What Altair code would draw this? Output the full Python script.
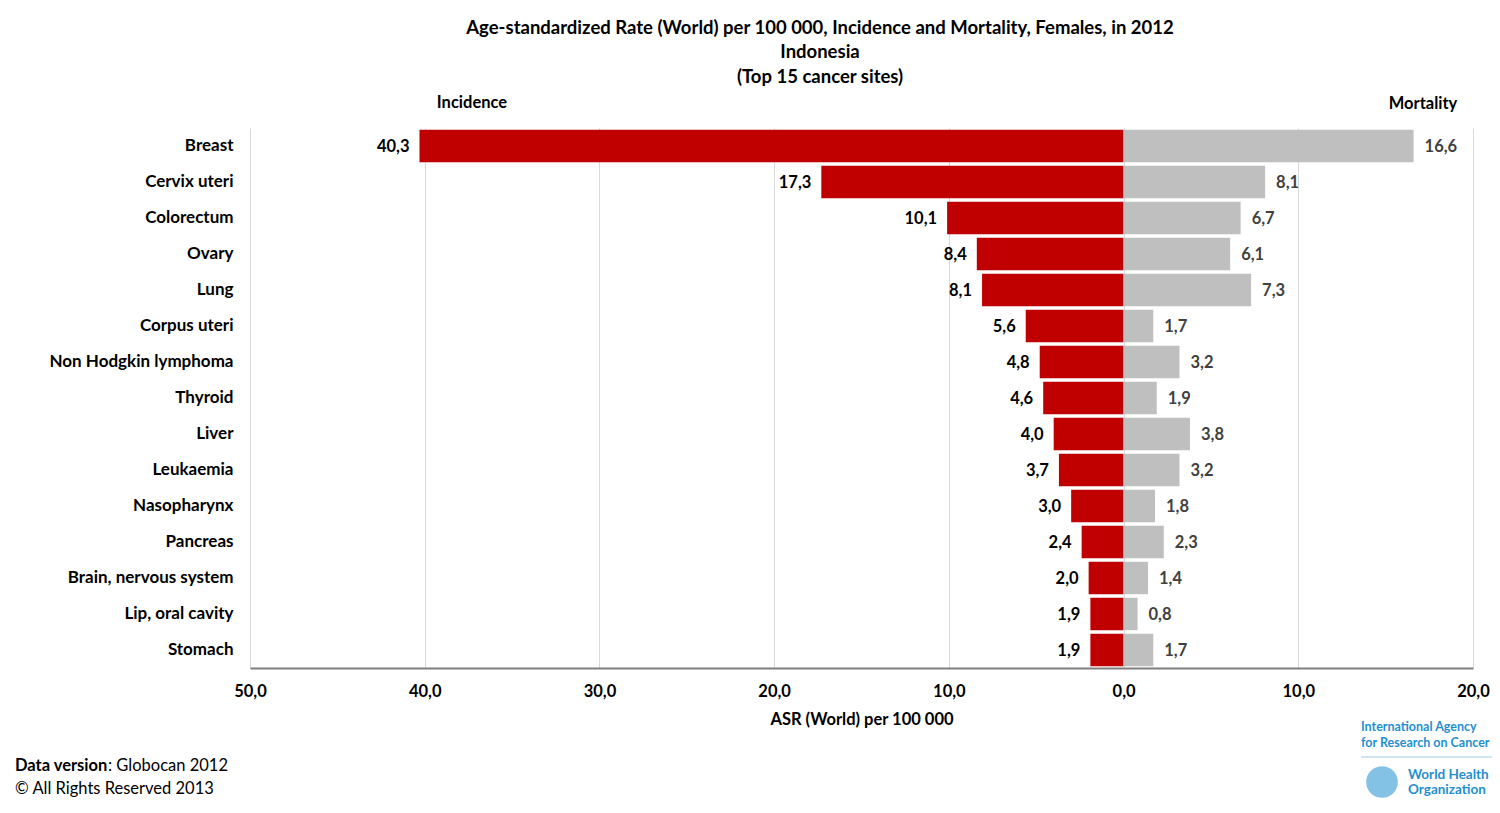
import altair as alt
import pandas as pd

sites = ["Breast", "Cervix uteri", "Colorectum", "Ovary", "Lung", "Corpus uteri",
         "Non Hodgkin lymphoma", "Thyroid", "Liver", "Leukaemia", "Nasopharynx",
         "Pancreas", "Brain, nervous system", "Lip, oral cavity", "Stomach"]
incidence = [40.3, 17.3, 10.1, 8.4, 8.1, 5.6, 4.8, 4.6, 4.0, 3.7, 3.0, 2.4, 2.0, 1.9, 1.9]
mortality = [16.6, 8.1, 6.7, 6.1, 7.3, 1.7, 3.2, 1.9, 3.8, 3.2, 1.8, 2.3, 1.4, 0.8, 1.7]
x_ticks = [-50, -40, -30, -20, -10, 0, 10, 20]

title_lines = ["Age-standardized Rate (World) per 100 000, Incidence and Mortality, Females, in 2012",
               "Indonesia", "(Top 15 cancer sites)"]

FONT = "Lato"
FS = 16.5
W, H = 1223, 540

rows = []
for s, v in zip(sites, incidence):
    rows.append({"site": s, "kind": "Incidence", "val": -v, "abs": v})
for s, v in zip(sites, mortality):
    rows.append({"site": s, "kind": "Mortality", "val": v, "abs": v})
df = pd.DataFrame(rows)

x_scale = alt.Scale(domain=[-50, 20], nice=False)
x_axis = alt.Axis(values=x_ticks,
                  labelExpr="replace(format(abs(datum.value), '.1f'), '.', ',')",
                  labelFont=FONT, labelFontSize=FS, labelFontWeight="bold",
                  labelColor="#000000", labelPadding=15, labelFlush=False,
                  labelOverlap=False,
                  titleFont=FONT, titleFontSize=FS, titleFontWeight="bold",
                  titleColor="#000000", titlePadding=12,
                  grid=True, gridColor="#d9d9d9", ticks=False,
                  domainColor="#7f7f7f", domainWidth=2)
X = alt.X("val:Q", scale=x_scale, title="ASR (World) per 100 000", axis=x_axis)
Y = alt.Y("site:N", sort=sites, title=None,
          scale=alt.Scale(paddingInner=0.1, paddingOuter=0.05),
          axis=alt.Axis(labelFont=FONT, labelFontSize=17, labelFontWeight="bold",
                        labelColor="#000000", labelPadding=17, labelLimit=400,
                        domain=False, ticks=False, grid=False))

base = alt.Chart(df)

bars = base.mark_bar().encode(
    x=X, x2=alt.datum(0), y=Y,
    color=alt.Color("kind:N", scale=alt.Scale(domain=["Incidence", "Mortality"],
                                              range=["#c00000", "#bfbfbf"]), legend=None),
)

lab_expr = "replace(format(datum.abs, '.1f'), '.', ',')"
inc_labels = base.transform_filter("datum.kind == 'Incidence'").transform_calculate(
    lab=lab_expr
).mark_text(align="right", baseline="middle", dx=-10, dy=1, font=FONT, fontSize=FS,
            fontWeight="bold", color="#000000").encode(x=X, y=Y, text="lab:N")

mort_labels = base.transform_filter("datum.kind == 'Mortality'").transform_calculate(
    lab=lab_expr
).mark_text(align="left", baseline="middle", dx=11, dy=1, font=FONT, fontSize=FS,
            fontWeight="bold", color="#404040").encode(x=X, y=Y, text="lab:N")


def txt(t, x, y, align="center", weight="normal", size=FS, color="#000000"):
    return alt.Chart(pd.DataFrame({"t": [t]})).mark_text(
        font=FONT, fontSize=size, fontWeight=weight, align=align, baseline="middle",
        color=color).encode(x=alt.value(x), y=alt.value(y), text="t:N")


title1 = txt(title_lines[0], 570, -100, weight="bold", size=18.5)
title2 = txt(title_lines[1], 570, -76, weight="bold", size=18.5)
title3 = txt(title_lines[2], 570, -51, weight="bold", size=18.5)

side_inc = txt("Incidence", 222, -25, weight="bold")
side_mort = txt("Mortality", 1173, -24, weight="bold")

foot1 = txt("Data version", -235, 638, align="left", weight="bold")
foot1b = txt(": Globocan 2012", -142, 638, align="left")
foot2 = txt("\u00a9 All Rights Reserved 2013", -235, 661, align="left")

BLUE = "#1f8fd0"
logo1 = txt("International Agency", 1111, 599, align="left", weight="bold", size=12.5, color=BLUE)
logo2 = txt("for Research on Cancer", 1111, 615, align="left", weight="bold", size=12.5, color=BLUE)
logo3 = txt("World Health", 1158, 647, align="left", weight="bold", size=13.5, color=BLUE)
logo4 = txt("Organization", 1158, 662, align="left", weight="bold", size=13.5, color=BLUE)
logo_rule = alt.Chart(pd.DataFrame({"a": [0]})).mark_rule(color="#9fcbe8", strokeWidth=1).encode(
    x=alt.value(1111), x2=alt.value(1242), y=alt.value(629))
logo_circle = alt.Chart(pd.DataFrame({"a": [0]})).mark_point(
    shape="circle", size=1000, color=BLUE, filled=True, opacity=0.55).encode(
    x=alt.value(1132), y=alt.value(654))

chart = alt.layer(
    bars, inc_labels, mort_labels, title1, title2, title3, side_inc, side_mort,
    foot1, foot1b, foot2, logo1, logo2, logo3, logo4, logo_rule, logo_circle
).properties(
    width=W, height=H,
    autosize="none",
    padding={"left": 242, "top": 120, "right": 19, "bottom": 137},
).configure_view(stroke=None)

chart.save("out.html", embed_options={"renderer": "svg", "actions": False})
